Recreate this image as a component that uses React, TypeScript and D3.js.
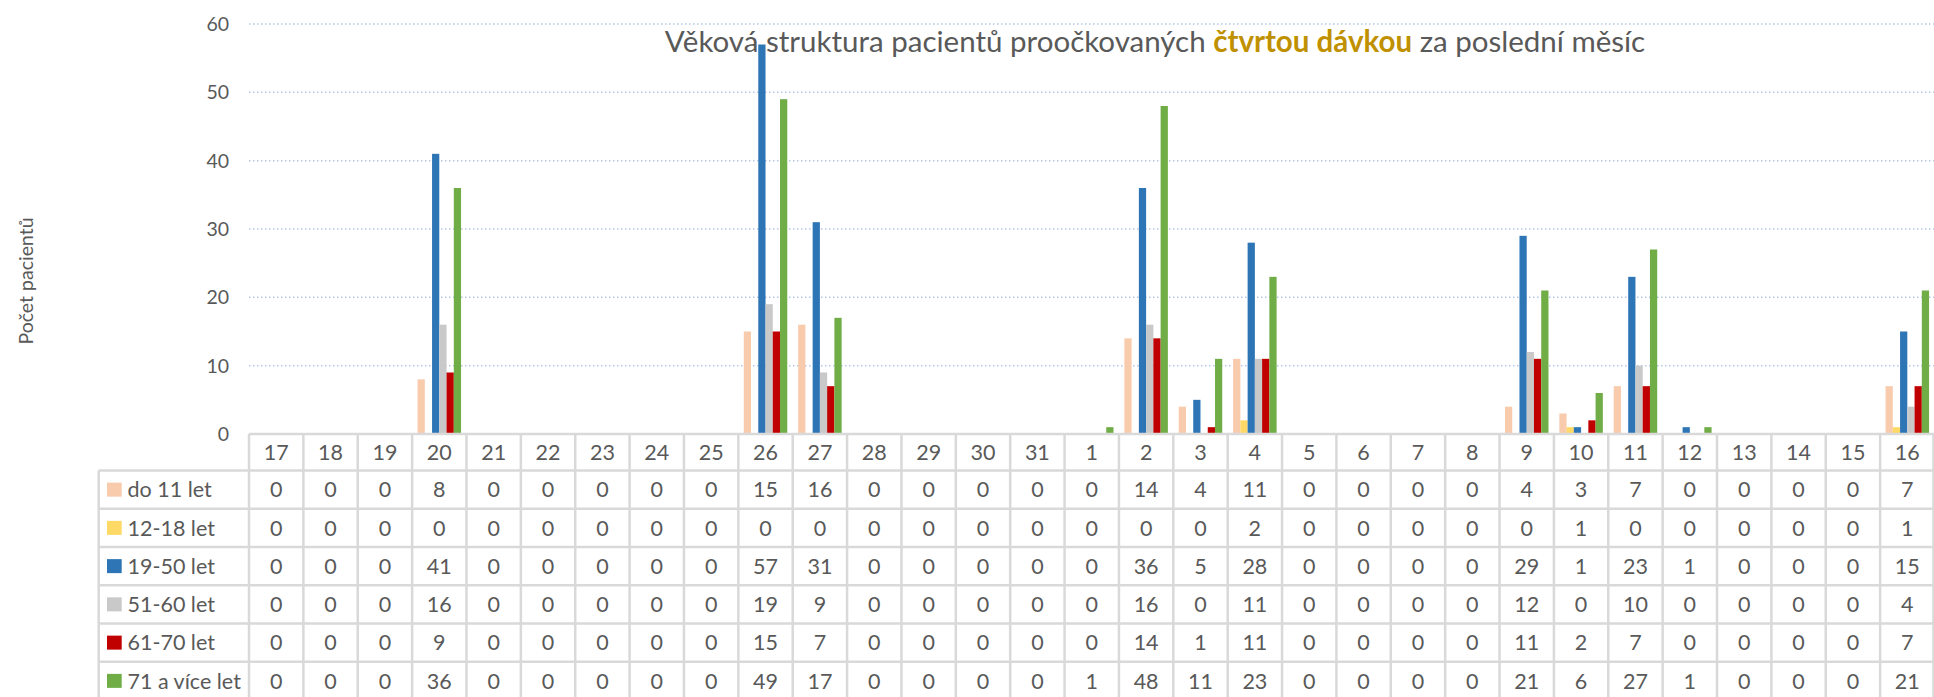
import React, { useRef, useEffect } from "react";
import * as d3 from "d3";

const days = [
  "17", "18", "19", "20", "21", "22", "23", "24", "25", "26", "27", "28", "29", "30", "31",
  "1", "2", "3", "4", "5", "6", "7", "8", "9", "10", "11", "12", "13", "14", "15", "16",
];

const groups = ["do 11 let", "12-18 let", "19-50 let", "51-60 let", "61-70 let", "71 a více let"];
const colors = ["#F8CBAD", "#FFD966", "#2E75B6", "#C9C9C9", "#C00000", "#70AD47"];

const do11 = [0, 0, 0, 8, 0, 0, 0, 0, 0, 15, 16, 0, 0, 0, 0, 0, 14, 4, 11, 0, 0, 0, 0, 4, 3, 7, 0, 0, 0, 0, 7];
const age12to18 = [0, 0, 0, 0, 0, 0, 0, 0, 0, 0, 0, 0, 0, 0, 0, 0, 0, 0, 2, 0, 0, 0, 0, 0, 1, 0, 0, 0, 0, 0, 1];
const age19to50 = [0, 0, 0, 41, 0, 0, 0, 0, 0, 57, 31, 0, 0, 0, 0, 0, 36, 5, 28, 0, 0, 0, 0, 29, 1, 23, 1, 0, 0, 0, 15];
const age51to60 = [0, 0, 0, 16, 0, 0, 0, 0, 0, 19, 9, 0, 0, 0, 0, 0, 16, 0, 11, 0, 0, 0, 0, 12, 0, 10, 0, 0, 0, 0, 4];
const age61to70 = [0, 0, 0, 9, 0, 0, 0, 0, 0, 15, 7, 0, 0, 0, 0, 0, 14, 1, 11, 0, 0, 0, 0, 11, 2, 7, 0, 0, 0, 0, 7];
const age71plus = [0, 0, 0, 36, 0, 0, 0, 0, 0, 49, 17, 0, 0, 0, 0, 1, 48, 11, 23, 0, 0, 0, 0, 21, 6, 27, 1, 0, 0, 0, 21];

const series = [do11, age12to18, age19to50, age51to60, age61to70, age71plus];
const yTicks = [0, 10, 20, 30, 40, 50, 60];

const W = 1934;
const H = 697;
const FONT = "Lato, 'Noto Sans', sans-serif";
const TEXT = "#595959";
const BORDER = "#D9D9D9";

export default function App() {
  const svgRef = useRef<SVGSVGElement>(null);

  useEffect(() => {
    if (!svgRef.current) return;
    const svg = d3.select(svgRef.current);
    svg.selectAll("*").remove();

    const plotLeft = 249;
    const plotRight = 1934.5;
    const y = d3.scaleLinear().domain([0, 60]).range([434, 24]);
    const x0 = d3.scaleBand<string>().domain(days).range([plotLeft, plotRight]).padding(0);
    const bw = x0.bandwidth();
    const pad = bw * 0.1;
    const x1 = d3.scaleBand<string>().domain(groups).range([pad, bw - pad]).padding(0);

    // mřížka
    svg
      .append("g")
      .selectAll("line")
      .data(yTicks.filter((d) => d > 0))
      .join("line")
      .attr("x1", plotLeft)
      .attr("x2", W)
      .attr("y1", (d) => y(d))
      .attr("y2", (d) => y(d))
      .attr("stroke", "#B4C7E7")
      .attr("stroke-width", 1.5)
      .attr("stroke-dasharray", "1.5,2.5");

    // popisky osy Y
    svg
      .append("g")
      .selectAll("text")
      .data(yTicks)
      .join("text")
      .attr("x", 229)
      .attr("y", (d) => y(d) + 7)
      .attr("text-anchor", "end")
      .style("font-family", FONT)
      .style("font-size", "19.5px")
      .style("fill", TEXT)
      .text((d) => d);

    // název osy
    svg
      .append("text")
      .attr("transform", `translate(33,281) rotate(-90)`)
      .attr("text-anchor", "middle")
      .style("font-family", FONT)
      .style("font-size", "19.5px")
      .style("fill", TEXT)
      .text("Počet pacientů");

    // sloupce
    const barG = svg.append("g");
    series.forEach((vals, si) => {
      barG
        .append("g")
        .selectAll("rect")
        .data(vals)
        .join("rect")
        .attr("x", (_, i) => (x0(days[i]) as number) + (x1(groups[si]) as number))
        .attr("width", x1.bandwidth())
        .attr("y", (d) => y(d))
        .attr("height", (d) => y(0) - y(d))
        .attr("fill", colors[si]);
    });

    // nadpis
    const title = svg
      .append("text")
      .attr("x", 1155)
      .attr("y", 52)
      .attr("text-anchor", "middle")
      .style("font-family", FONT)
      .style("font-size", "29.5px")
      .style("fill", TEXT);
    title.append("tspan").text("Věková struktura pacientů proočkovaných ");
    title.append("tspan").style("fill", "#BF9000").style("font-weight", "bold").text("čtvrtou dávkou");
    title.append("tspan").text(" za poslední měsíc");

    // tabulka dat
    const headTop = 434;
    const headBottom = 470.5;
    const rowH = 38.25;
    const legendLeft = 98.7;
    const tableBottom = headBottom + rowH * groups.length;
    const table = svg.append("g");

    // vodorovné čáry
    table
      .append("line")
      .attr("x1", plotLeft)
      .attr("x2", W)
      .attr("y1", headTop)
      .attr("y2", headTop)
      .attr("stroke", BORDER)
      .attr("stroke-width", 2.5);

    table
      .selectAll("line.row")
      .data(d3.range(groups.length + 1))
      .join("line")
      .attr("class", "row")
      .attr("x1", legendLeft)
      .attr("x2", W)
      .attr("y1", (i) => headBottom + i * rowH)
      .attr("y2", (i) => headBottom + i * rowH)
      .attr("stroke", BORDER)
      .attr("stroke-width", 2.5);

    // svislé čáry
    table
      .selectAll("line.col")
      .data(days.map((d) => x0(d) as number).concat([plotRight - 1]))
      .join("line")
      .attr("class", "col")
      .attr("x1", (d) => d)
      .attr("x2", (d) => d)
      .attr("y1", headTop)
      .attr("y2", tableBottom)
      .attr("stroke", BORDER)
      .attr("stroke-width", 2.5);

    table
      .append("line")
      .attr("x1", legendLeft)
      .attr("x2", legendLeft)
      .attr("y1", headBottom)
      .attr("y2", tableBottom)
      .attr("stroke", BORDER)
      .attr("stroke-width", 2.5);

    // záhlaví – dny
    table
      .selectAll("text.day")
      .data(days)
      .join("text")
      .attr("class", "day")
      .attr("x", (d) => (x0(d) as number) + bw / 2)
      .attr("y", (headTop + headBottom) / 2 + 7.8)
      .attr("text-anchor", "middle")
      .style("font-family", FONT)
      .style("font-size", "21.5px")
      .style("fill", TEXT)
      .text((d) => d);

    // řádky
    groups.forEach((g, gi) => {
      const cy = headBottom + rowH * (gi + 0.5);
      table
        .append("rect")
        .attr("x", 107)
        .attr("y", cy - 7)
        .attr("width", 14.7)
        .attr("height", 14)
        .attr("fill", colors[gi]);
      table
        .append("text")
        .attr("x", 127.5)
        .attr("y", cy + 7.8)
        .style("font-family", FONT)
        .style("font-size", "21.5px")
        .style("fill", TEXT)
        .text(g);
      table
        .append("g")
        .selectAll("text")
        .data(series[gi])
        .join("text")
        .attr("x", (_, i) => (x0(days[i]) as number) + bw / 2)
        .attr("y", cy + 7.8)
        .attr("text-anchor", "middle")
        .style("font-family", FONT)
        .style("font-size", "21.5px")
        .style("fill", TEXT)
        .text((d) => d);
    });
  }, []);

  return (
    <svg
      ref={svgRef}
      width={W}
      height={H}
      viewBox={`0 0 ${W} ${H}`}
      style={{ position: "absolute", left: 0, top: 0, background: "#fff" }}
    />
  );
}
